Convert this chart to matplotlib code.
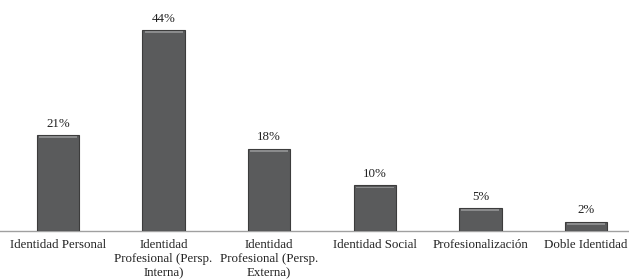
import matplotlib.pyplot as plt
import numpy as np

categories = ["Identidad Personal", "Identidad\nProfesional (Persp.\nInterna)",
              "Identidad\nProfesional (Persp.\nExterna)", "Identidad Social",
              "Profesionalización", "Doble Identidad"]
values = [21, 44, 18, 10, 5, 2]

plt.rcParams["font.family"] = ["Liberation Serif", "DejaVu Serif"]

fig = plt.figure(figsize=(6.29, 2.8), dpi=100)
ax = fig.add_axes([0, 49 / 280, 1, 228 / 280])

x = np.arange(len(categories))
bars = ax.bar(x, values, 0.4, color="#5a5b5c", edgecolor="#3c3c3c", linewidth=0.8, zorder=3)
# light bevel on top of each bar
for b in bars:
    ax.bar(b.get_x() + b.get_width() / 2, 0.35, b.get_width() * 0.9, bottom=b.get_height() - 0.6,
           color="#8a8b8c", linewidth=0, zorder=4)

for b, v in zip(bars, values):
    ax.annotate(f"{v}%", xy=(b.get_x() + b.get_width() / 2, b.get_height()),
                xytext=(0, 4), textcoords="offset points",
                ha="center", va="bottom", fontsize=9.3, color="#222222")

ax.set_xlim(-0.549, 5.407)
ax.set_ylim(0, 50)
ax.set_xticks(x)
ax.set_xticklabels(categories, fontsize=9.3, color="#222222", linespacing=1.2)
ax.tick_params(axis="x", length=0, pad=6)
ax.set_yticks([])
for s in ["top", "right", "left"]:
    ax.spines[s].set_visible(False)
ax.spines["bottom"].set_color("#a0a0a0")
ax.spines["bottom"].set_linewidth(1.0)

fig.savefig("out.png", dpi=100)
